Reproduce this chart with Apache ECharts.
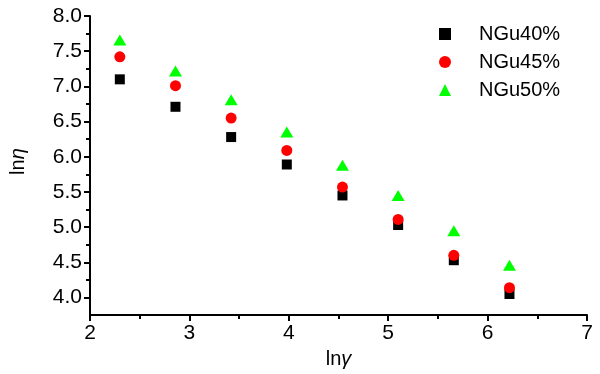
<!DOCTYPE html>
<html><head><meta charset="utf-8">
<script src="https://cdn.jsdelivr.net/npm/echarts@6/dist/echarts.min.js"></script>
<style>html,body{margin:0;padding:0;background:#fff}#c{width:600px;height:374px}</style>
</head><body><div id="c"></div>
<script>
var lnGamma = [2.30, 2.86, 3.42, 3.98, 4.54, 5.10, 5.66, 6.22];
var ngu40 = [7.10, 6.71, 6.28, 5.89, 5.45, 5.03, 4.53, 4.05];
var ngu45 = [7.42, 7.01, 6.55, 6.09, 5.57, 5.11, 4.60, 4.14];
var ngu50 = [7.66, 7.22, 6.81, 6.35, 5.88, 5.45, 4.95, 4.46];
var seriesNames = ['NGu40%', 'NGu45%', 'NGu50%'];
var colors = ['#000000', '#ff0000', '#00ff00'];
var yMajor = [4.0, 4.5, 5.0, 5.5, 6.0, 6.5, 7.0, 7.5, 8.0];
var yMinor = [4.25, 4.75, 5.25, 5.75, 6.25, 6.75, 7.25, 7.75];

function pairs(ys){ return lnGamma.map(function(x,i){ return [x, ys[i]]; }); }
var FONT = 'Liberation Sans';
var nameRich = {a: {fontFamily: FONT, fontSize: 20, color: '#000'}, b: {fontFamily: FONT, fontSize: 20, fontStyle: 'italic', color: '#000'}};
var chart = echarts.init(document.getElementById('c'));
chart.setOption({
  animation: false,
  backgroundColor: '#fff',
  grid: {left: 88, right: 13, top: 16, bottom: 58, containLabel: false},
  legend: {
    orient: 'vertical', left: 434, top: 19, itemGap: 8,
    itemWidth: 12, itemHeight: 12,
    textStyle: {fontFamily: FONT, fontSize: 20, color: '#000', padding: [0,0,0,23], lineHeight: 20},
    data: seriesNames
  },
  xAxis: {
    type: 'value', min: 2, max: 7, interval: 1,
    name: '{a|ln}{b|γ}', nameLocation: 'middle', nameGap: 30,
    nameTextStyle: {rich: nameRich},
    axisLine: {lineStyle: {color: '#000', width: 2}},
    axisTick: {inside: false, length: 6, lineStyle: {color: '#000', width: 2}},
    minorTick: {show: true, splitNumber: 2, length: 4, lineStyle: {color: '#000', width: 2}},
    axisLabel: {fontFamily: FONT, fontSize: 21, color: '#000', margin: 8},
    splitLine: {show: false}
  },
  yAxis: [{
    type: 'value', min: 3.75, max: 8.0, interval: 0.25,
    name: '{a|ln}{b|η}', nameLocation: 'middle', nameGap: 62, nameRotate: 90,
    nameTextStyle: {rich: nameRich, padding: [0, 0, 0, 8]},
    axisLine: {lineStyle: {color: '#000', width: 2}},
    axisTick: {inside: false, length: 6, customValues: yMajor, lineStyle: {color: '#000', width: 2}},
    axisLabel: {fontFamily: FONT, fontSize: 21, color: '#000', margin: 8, customValues: yMajor,
      formatter: function(v){ return v.toFixed(1); }},
    splitLine: {show: false}
  }, {
    type: 'value', min: 3.75, max: 8.0, interval: 0.25, position: 'left',
    axisLine: {show: false},
    axisTick: {show: true, inside: false, length: 4, customValues: yMinor, lineStyle: {color: '#000', width: 2}},
    axisLabel: {show: false},
    splitLine: {show: false}
  }],
  series: [
    {name: seriesNames[0], type: 'scatter', symbol: 'rect', symbolSize: 10, itemStyle: {color: colors[0], opacity: 1}, data: pairs(ngu40)},
    {name: seriesNames[1], type: 'scatter', symbol: 'circle', symbolSize: 11, itemStyle: {color: colors[1], opacity: 1}, data: pairs(ngu45)},
    {name: seriesNames[2], type: 'scatter', symbol: 'triangle', symbolSize: [13, 11], itemStyle: {color: colors[2], opacity: 1}, data: pairs(ngu50)}
  ]
});
</script></body></html>
